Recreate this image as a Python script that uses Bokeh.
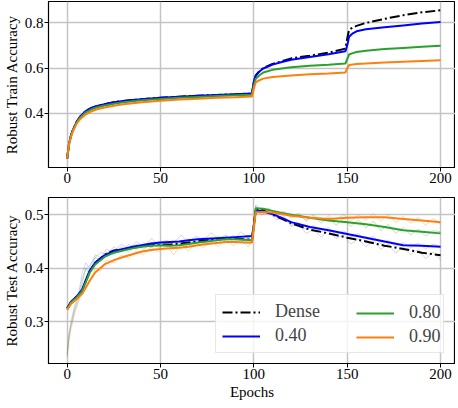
from bokeh.plotting import figure
from bokeh.layouts import column
from bokeh.models import FixedTicker, Legend, LegendItem
from bokeh.embed import file_html
from bokeh.resources import INLINE

# ---------------- data: robust train accuracy ----------------
train_epochs = [0, 1, 2, 3, 5, 7, 10, 13, 16, 20, 25, 30, 35, 40, 50, 60, 70, 80, 90, 99,
                100, 101, 103, 105, 110, 115, 120, 130, 140, 149,
                150, 151, 153, 155, 160, 170, 180, 190, 200]
train_dense = [0.20, 0.265, 0.30, 0.325, 0.36, 0.385, 0.41, 0.423, 0.432, 0.44, 0.448, 0.454, 0.458, 0.462,
               0.468, 0.473, 0.477, 0.481, 0.484, 0.487,
               0.54, 0.567, 0.587, 0.600, 0.618, 0.630, 0.643, 0.655, 0.668, 0.686,
               0.73, 0.770, 0.780, 0.787, 0.800, 0.818, 0.834, 0.847, 0.856]
train_040 = [0.20, 0.265, 0.30, 0.325, 0.36, 0.385, 0.41, 0.423, 0.432, 0.44, 0.448, 0.454, 0.458, 0.462,
             0.468, 0.473, 0.477, 0.481, 0.484, 0.487,
             0.54, 0.565, 0.585, 0.598, 0.615, 0.627, 0.637, 0.649, 0.661, 0.674,
             0.70, 0.739, 0.754, 0.763, 0.772, 0.781, 0.789, 0.797, 0.804]
train_080 = [0.20, 0.263, 0.298, 0.322, 0.357, 0.381, 0.404, 0.417, 0.426, 0.434, 0.442, 0.448, 0.453, 0.457,
             0.463, 0.468, 0.472, 0.476, 0.479, 0.482,
             0.52, 0.553, 0.568, 0.580, 0.592, 0.598, 0.603, 0.610, 0.615, 0.620,
             0.64, 0.660, 0.666, 0.671, 0.677, 0.684, 0.689, 0.694, 0.699]
train_090 = [0.20, 0.26, 0.295, 0.318, 0.352, 0.374, 0.395, 0.408, 0.417, 0.425, 0.433, 0.439, 0.444, 0.448,
             0.455, 0.460, 0.464, 0.468, 0.471, 0.474,
             0.51, 0.536, 0.546, 0.553, 0.560, 0.564, 0.567, 0.572, 0.576, 0.580,
             0.60, 0.613, 0.616, 0.618, 0.620, 0.625, 0.628, 0.631, 0.634]

# ---------------- data: robust test accuracy (smoothed) ----------------
test_epochs = [0, 2, 5, 8, 10, 12, 15, 20, 25, 30, 35, 40, 45, 50, 55, 60, 65, 70, 75, 80, 85, 90, 95, 99,
               100, 101, 105, 110, 115, 120, 130, 140, 150, 160, 170, 180, 190, 200]
test_dense = [0.325, 0.337, 0.346, 0.358, 0.376, 0.393, 0.410, 0.425, 0.433, 0.435, 0.438, 0.441, 0.443, 0.444,
              0.444, 0.446, 0.448, 0.450, 0.452, 0.454, 0.455, 0.455, 0.454, 0.453,
              0.48, 0.510, 0.508, 0.500, 0.492, 0.484, 0.472, 0.465, 0.457, 0.450, 0.442, 0.436, 0.429, 0.424]
test_040 = [0.325, 0.337, 0.347, 0.360, 0.378, 0.395, 0.410, 0.424, 0.432, 0.436, 0.440, 0.443, 0.446, 0.448,
            0.449, 0.450, 0.452, 0.454, 0.455, 0.456, 0.457, 0.458, 0.459, 0.460,
            0.48, 0.508, 0.506, 0.501, 0.494, 0.486, 0.477, 0.471, 0.464, 0.457, 0.450, 0.443, 0.442, 0.440]
test_080 = [0.324, 0.336, 0.345, 0.357, 0.374, 0.391, 0.407, 0.421, 0.429, 0.433, 0.437, 0.440, 0.442, 0.443,
            0.442, 0.443, 0.445, 0.448, 0.450, 0.452, 0.454, 0.454, 0.453, 0.452,
            0.48, 0.512, 0.511, 0.507, 0.503, 0.500, 0.494, 0.489, 0.486, 0.482, 0.477, 0.471, 0.468, 0.465]
test_090 = [0.322, 0.333, 0.342, 0.352, 0.364, 0.376, 0.392, 0.407, 0.415, 0.421, 0.426, 0.431, 0.434, 0.436,
            0.437, 0.438, 0.440, 0.443, 0.445, 0.447, 0.449, 0.449, 0.448, 0.448,
            0.475, 0.504, 0.505, 0.504, 0.501, 0.498, 0.494, 0.492, 0.494, 0.495, 0.495, 0.492, 0.489, 0.486]

# ---------------- data: robust test accuracy (raw, faint) ----------------
raw_epochs = [0, 1, 2, 4, 6, 8, 10, 12, 15, 18, 21, 25, 29, 33, 37, 41, 45, 49, 53, 57, 61, 65, 69, 73, 77, 81,
              85, 89, 93, 97, 99, 101, 104, 108, 112, 116, 120, 124, 128, 132, 136, 140, 144, 148, 152, 156,
              160, 164, 168, 172, 176, 180, 184, 188, 192, 196, 200]
raw_dense = [0.235, 0.275, 0.295, 0.325, 0.345, 0.38, 0.40, 0.405, 0.42, 0.43, 0.425, 0.44, 0.43, 0.445, 0.435,
             0.448, 0.438, 0.45, 0.44, 0.45, 0.442, 0.455, 0.445, 0.458, 0.448, 0.46, 0.45, 0.462, 0.448, 0.458,
             0.45, 0.512, 0.50, 0.505, 0.49, 0.495, 0.478, 0.482, 0.465, 0.472, 0.458, 0.47, 0.455, 0.462, 0.445,
             0.455, 0.44, 0.452, 0.435, 0.445, 0.428, 0.44, 0.425, 0.435, 0.418, 0.43, 0.415]
raw_040 = [0.24, 0.28, 0.30, 0.33, 0.35, 0.39, 0.41, 0.40, 0.425, 0.42, 0.435, 0.43, 0.445, 0.435, 0.45, 0.44,
           0.455, 0.445, 0.452, 0.447, 0.462, 0.448, 0.46, 0.452, 0.466, 0.455, 0.462, 0.452, 0.468, 0.455,
           0.462, 0.515, 0.505, 0.51, 0.495, 0.498, 0.48, 0.485, 0.472, 0.48, 0.468, 0.476, 0.462, 0.47, 0.458,
           0.465, 0.45, 0.46, 0.445, 0.452, 0.44, 0.448, 0.438, 0.447, 0.436, 0.445, 0.44]
raw_080 = [0.24, 0.27, 0.29, 0.32, 0.34, 0.37, 0.40, 0.39, 0.42, 0.415, 0.43, 0.425, 0.44, 0.43, 0.445, 0.435,
           0.448, 0.438, 0.445, 0.435, 0.45, 0.44, 0.455, 0.445, 0.457, 0.447, 0.46, 0.448, 0.458, 0.445,
           0.45, 0.518, 0.508, 0.512, 0.50, 0.506, 0.495, 0.502, 0.488, 0.498, 0.484, 0.495, 0.48, 0.492,
           0.478, 0.49, 0.475, 0.488, 0.47, 0.482, 0.465, 0.476, 0.462, 0.473, 0.46, 0.47, 0.468]
raw_090 = [0.235, 0.265, 0.285, 0.315, 0.335, 0.36, 0.38, 0.375, 0.40, 0.395, 0.415, 0.41, 0.425, 0.418, 0.432,
           0.425, 0.44, 0.43, 0.442, 0.425, 0.445, 0.432, 0.448, 0.438, 0.45, 0.44, 0.455, 0.442, 0.452, 0.44,
           0.448, 0.51, 0.50, 0.508, 0.498, 0.505, 0.493, 0.502, 0.49, 0.50, 0.488, 0.498, 0.49, 0.50, 0.488,
           0.50, 0.49, 0.502, 0.488, 0.50, 0.485, 0.497, 0.484, 0.495, 0.48, 0.493, 0.482]

labels = ["Dense", "0.40", "0.80", "0.90"]
colors = ["#000000", "#0000ff", "#2ca02c", "#ff7f0e"]
x_ticks = [0, 50, 100, 150, 200]
train_yticks = [0.4, 0.6, 0.8]
test_yticks = [0.3, 0.4, 0.5]

FONT = "Liberation Serif"


def style(p, yticks, ylabel, xlabel=None):
    p.xaxis.ticker = FixedTicker(ticks=x_ticks)
    p.yaxis.ticker = FixedTicker(ticks=yticks)
    p.axis.major_label_text_font = FONT
    p.axis.major_label_text_font_size = "15px"
    p.axis.major_label_text_color = "#000000"
    p.axis.axis_label_text_font = FONT
    p.axis.axis_label_text_font_size = "15px"
    p.axis.axis_label_text_font_style = "normal"
    p.axis.axis_label_text_color = "#000000"
    p.axis.major_tick_out = 4
    p.axis.major_tick_in = 0
    p.axis.minor_tick_out = 0
    p.axis.minor_tick_in = 0
    p.axis.major_tick_line_color = "#000000"
    p.axis.axis_line_color = "#000000"
    p.axis.major_label_standoff = 1
    p.axis.axis_label_standoff = 2
    p.yaxis.axis_label = ylabel
    if xlabel:
        p.xaxis.axis_label = xlabel
    p.grid.grid_line_color = "#c4c4c4"
    p.grid.grid_line_width = 1.5
    p.outline_line_color = "#000000"
    p.outline_line_width = 1.2
    p.background_fill_color = "white"
    p.border_fill_color = "white"


p1 = figure(frame_width=407, frame_height=166, x_range=(-10, 208), y_range=(0.159, 0.895),
            output_backend="svg", toolbar_location=None,
            min_border_left=43, min_border_right=0, min_border_top=1, min_border_bottom=5)
style(p1, train_yticks, "Robust Train Accuracy")

p1.line(train_epochs, train_dense, line_color=colors[0], line_width=2, line_dash="10 3 2 3")
p1.line(train_epochs, train_040, line_color=colors[1], line_width=2)
p1.line(train_epochs, train_080, line_color=colors[2], line_width=2)
p1.line(train_epochs, train_090, line_color=colors[3], line_width=2)

p2 = figure(frame_width=407, frame_height=166, x_range=(-10, 208), y_range=(0.222, 0.532),
            output_backend="svg", toolbar_location=None,
            min_border_left=43, min_border_right=0, min_border_top=12, min_border_bottom=5)
style(p2, test_yticks, "Robust Test Accuracy", "Epochs")

raw_sets = [raw_dense, raw_040, raw_080, raw_090]
raw_colors = ["#7a7a7a", "#6f6fff", "#2ca02c", "#ff7f0e"]
for r, c in zip(raw_sets, raw_colors):
    p2.line(raw_epochs, r, line_color=c, line_width=1, line_alpha=0.3)

r_dense = p2.line(test_epochs, test_dense, line_color=colors[0], line_width=2, line_dash="10 3 2 3")
r_040 = p2.line(test_epochs, test_040, line_color=colors[1], line_width=2)
r_080 = p2.line(test_epochs, test_080, line_color=colors[2], line_width=2)
r_090 = p2.line(test_epochs, test_090, line_color=colors[3], line_width=2)

leg_a = Legend(items=[LegendItem(label=labels[0], renderers=[r_dense]),
                      LegendItem(label=labels[1], renderers=[r_040])],
               location=(167, 10), margin=0, padding=6, spacing=3,
               glyph_width=38, glyph_height=20, label_standoff=15, label_width=162, label_height=20,
               label_text_font=FONT, label_text_font_size="18px",
               border_line_color="#d0d0d0", border_line_width=1,
               background_fill_color="white", background_fill_alpha=0.8)
leg_b = Legend(items=[LegendItem(label=labels[2], renderers=[r_080]),
                      LegendItem(label=labels[3], renderers=[r_090])],
               location=(302, 10), margin=0, padding=6, spacing=3,
               glyph_width=38, glyph_height=20, label_standoff=15, label_width=30, label_height=20,
               label_text_font=FONT, label_text_font_size="18px",
               border_line_color="#d0d0d0", border_line_alpha=0.0, background_fill_alpha=0.0)
p2.add_layout(leg_a)
p2.add_layout(leg_b)

layout = column(p1, p2, spacing=0)
open("out.html", "w").write(file_html(layout, INLINE))
